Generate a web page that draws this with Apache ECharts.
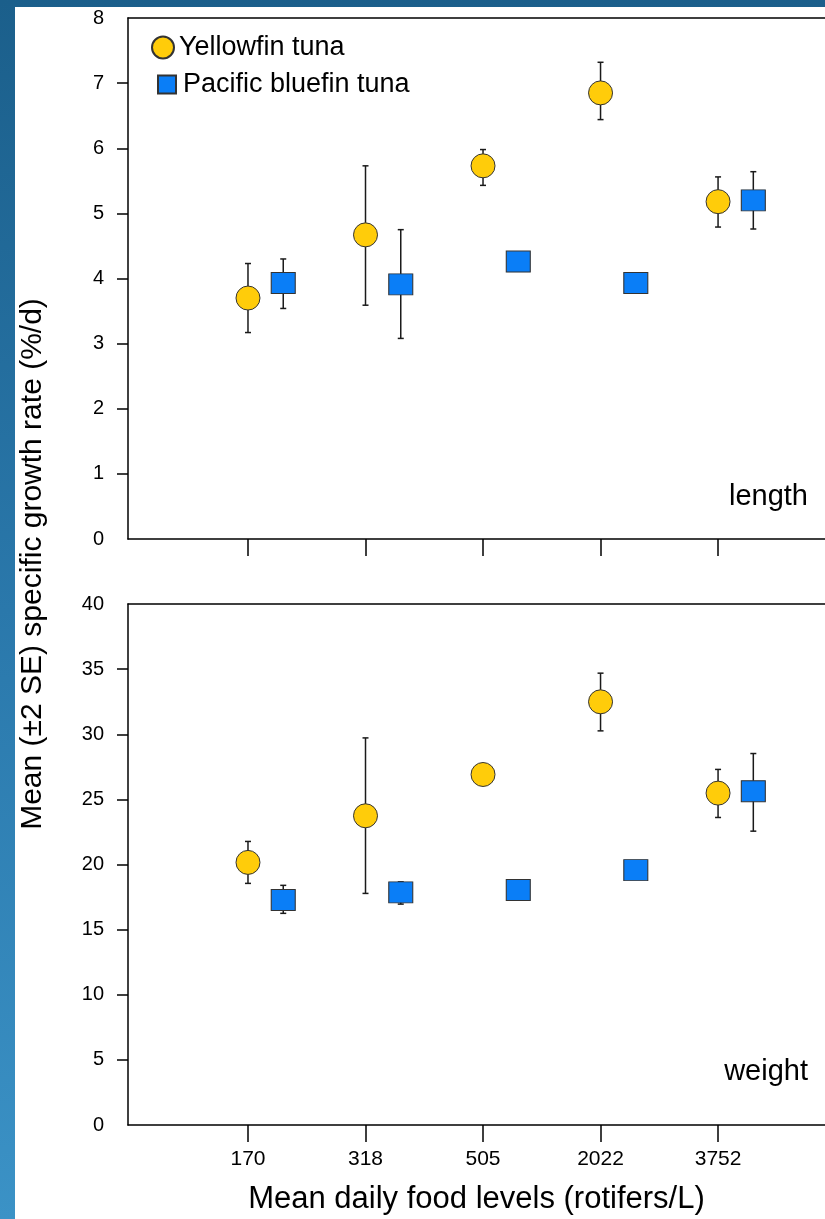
<!DOCTYPE html>
<html>
<head>
<meta charset="utf-8">
<script src="https://cdn.jsdelivr.net/npm/echarts@6/dist/echarts.min.js"></script>
<style>
  html, body { margin: 0; padding: 0; width: 825px; height: 1219px; overflow: hidden; }
  body { background: linear-gradient(to bottom, #1b5f8b 0%, #2a78ab 50%, #3b92c6 100%); position: relative; }
  #panel { position: absolute; left: 15px; top: 7px; right: 0; bottom: 0; background: #fff; }
  #chart { position: absolute; left: 0; top: 0; width: 825px; height: 1219px; }
</style>
</head>
<body>
<div id="panel"></div>
<div id="chart"></div>
<script>
// ---- data ----
const categories = ['170', '318', '505', '2022', '3752'];
const yLengthTicks = [0, 1, 2, 3, 4, 5, 6, 7, 8];
const yWeightTicks = [0, 5, 10, 15, 20, 25, 30, 35, 40];

// Length (%/d)
const yfLenMean = [3.70, 4.67, 5.73, 6.85, 5.18];
const yfLenLow  = [3.17, 3.59, 5.43, 6.44, 4.79];
const yfLenHigh = [4.23, 5.73, 5.98, 7.32, 5.56];
const pbLenMean = [3.93, 3.91, 4.26, 3.93, 5.20];
const pbLenLow  = [3.54, 3.08, 4.16, 3.84, 4.76];
const pbLenHigh = [4.30, 4.75, 4.36, 4.02, 5.64];

// Weight (%/d)
const yfWtMean = [20.16, 23.74, 26.91, 32.49, 25.48];
const yfWtLow  = [18.55, 17.78, 26.30, 30.26, 23.61];
const yfWtHigh = [21.77, 29.72, 27.50, 34.69, 27.30];
const pbWtMean = [17.27, 17.86, 18.04, 19.57, 25.63];
const pbWtLow  = [16.25, 16.96, 17.40, 19.00, 22.56];
const pbWtHigh = [18.40, 18.67, 18.70, 20.10, 28.52];

const pbOffset = 0.3;

// ---- chart ----
const FONT = '"Liberation Sans", Arial, Helvetica, sans-serif';
const chart = echarts.init(document.getElementById('chart'), null, { renderer: 'canvas' });

const YF_COLOR = '#FFCC0A';
const PB_COLOR = '#0A7EF7';
const EDGE = '#333333';
const X_MIN = -0.021, X_MAX = 5.91;

function xAxisCfg(grid, showLabels) {
  return {
    type: 'value', gridIndex: grid, min: X_MIN, max: X_MAX, position: 'bottom',
    splitLine: { show: false },
    axisLine: { show: true, onZero: false, lineStyle: { color: '#000', width: 1.5 } },
    axisTick: { show: true, inside: false, length: 17, customValues: [1, 2, 3, 4, 5], lineStyle: { color: '#000', width: 1.5 } },
    axisLabel: {
      show: showLabels, customValues: [1, 2, 3, 4, 5], margin: 24,
      fontSize: 21, color: '#000', fontFamily: FONT,
      formatter: v => categories[Math.round(v) - 1] || ''
    }
  };
}
function topFrameAxis(grid) {
  return {
    type: 'value', gridIndex: grid, min: X_MIN, max: X_MAX, position: 'top',
    splitLine: { show: false }, axisTick: { show: false }, axisLabel: { show: false },
    axisLine: { show: true, onZero: false, lineStyle: { color: '#000', width: 1.5 } }
  };
}
function yAxisCfg(grid, ticks) {
  const step = ticks[1] - ticks[0];
  return {
    type: 'value', gridIndex: grid, min: ticks[0], max: ticks[ticks.length - 1], interval: step,
    splitLine: { show: false },
    axisLine: { show: true, onZero: false, lineStyle: { color: '#000', width: 1.5 } },
    axisTick: { show: true, inside: false, length: 11, customValues: ticks.slice(1, -1), lineStyle: { color: '#000', width: 1.5 } },
    axisLabel: { margin: 24, fontSize: 20, color: '#000', fontFamily: FONT }
  };
}

function pts(mean, off) { return mean.map((v, i) => [i + 1 + off, v]); }
function errData(low, high, off) { return low.map((l, i) => [i + 1 + off, l, high[i]]); }

function errSeries(grid, low, high, off) {
  return {
    type: 'custom', xAxisIndex: grid, yAxisIndex: grid, z: 1, silent: true,
    data: errData(low, high, off),
    encode: { x: 0, y: [1, 2] },
    renderItem: function (params, api) {
      const x = api.value(0);
      const lo = api.coord([x, api.value(1)]);
      const hi = api.coord([x, api.value(2)]);
      const cw = 3;
      const st = { stroke: '#1a1a1a', lineWidth: 1.5 };
      return {
        type: 'group',
        children: [
          { type: 'line', shape: { x1: lo[0], y1: lo[1], x2: hi[0], y2: hi[1] }, style: st },
          { type: 'line', shape: { x1: hi[0] - cw, y1: hi[1], x2: hi[0] + cw, y2: hi[1] }, style: st },
          { type: 'line', shape: { x1: lo[0] - cw, y1: lo[1], x2: lo[0] + cw, y2: lo[1] }, style: st }
        ]
      };
    }
  };
}

function yfSeries(grid, mean) {
  return {
    name: 'Yellowfin tuna', type: 'scatter', xAxisIndex: grid, yAxisIndex: grid, z: 3,
    symbol: 'circle', symbolSize: 24,
    itemStyle: { color: YF_COLOR, borderColor: EDGE, borderWidth: 1, opacity: 1 },
    data: pts(mean, 0)
  };
}
function pbSeries(grid, mean) {
  return {
    name: 'Pacific bluefin tuna', type: 'scatter', xAxisIndex: grid, yAxisIndex: grid, z: 3,
    symbol: 'rect', symbolSize: [24, 21],
    itemStyle: { color: PB_COLOR, borderColor: EDGE, borderWidth: 1, opacity: 1 },
    data: pts(mean, pbOffset)
  };
}

const option = {
  animation: false,
  backgroundColor: 'transparent',
  textStyle: { fontFamily: FONT },
  grid: [
    { left: 128, top: 18, height: 521, right: 0, show: false },
    { left: 128, top: 604, height: 521, right: 0, show: false }
  ],
  xAxis: [
    xAxisCfg(0, false),
    Object.assign(xAxisCfg(1, true), {
      name: 'Mean daily food levels (rotifers/L)', nameLocation: 'middle', nameGap: 59,
      nameTextStyle: { fontSize: 31, color: '#000', fontFamily: FONT }
    }),
    topFrameAxis(0),
    topFrameAxis(1)
  ],
  yAxis: [yAxisCfg(0, yLengthTicks), yAxisCfg(1, yWeightTicks)],
  legend: [
    {
      data: ['Yellowfin tuna'], left: 146, top: 29, orient: 'vertical',
      icon: 'circle', itemWidth: 22, itemHeight: 22, selectedMode: false,
      textStyle: { fontSize: 27, color: '#000', fontFamily: FONT }
    },
    {
      data: ['Pacific bluefin tuna'], left: 152, top: 66, orient: 'vertical',
      icon: 'rect', itemWidth: 18, itemHeight: 18, selectedMode: false,
      textStyle: { fontSize: 27, color: '#000', fontFamily: FONT, padding: [0, 0, 0, 2] }
    }
  ],
  graphic: [
    { type: 'text', x: 808, y: 497, style: { text: 'length', fontSize: 29, fill: '#000', fontFamily: FONT, textAlign: 'right', textVerticalAlign: 'middle' } },
    { type: 'text', x: 808, y: 1072, style: { text: 'weight', fontSize: 29, fill: '#000', fontFamily: FONT, textAlign: 'right', textVerticalAlign: 'middle' } },
    { type: 'text', x: 33, y: 564, rotation: Math.PI / 2, style: { text: 'Mean (\u00b12 SE) specific growth rate (%/d)', fontSize: 30, fill: '#000', fontFamily: FONT, textAlign: 'center', textVerticalAlign: 'middle' } }
  ],
  series: [
    errSeries(0, yfLenLow, yfLenHigh, 0),
    errSeries(0, pbLenLow, pbLenHigh, pbOffset),
    errSeries(1, yfWtLow, yfWtHigh, 0),
    errSeries(1, pbWtLow, pbWtHigh, pbOffset),
    yfSeries(0, yfLenMean),
    pbSeries(0, pbLenMean),
    yfSeries(1, yfWtMean),
    pbSeries(1, pbWtMean)
  ]
};
chart.setOption(option);
</script>
</body>
</html>
